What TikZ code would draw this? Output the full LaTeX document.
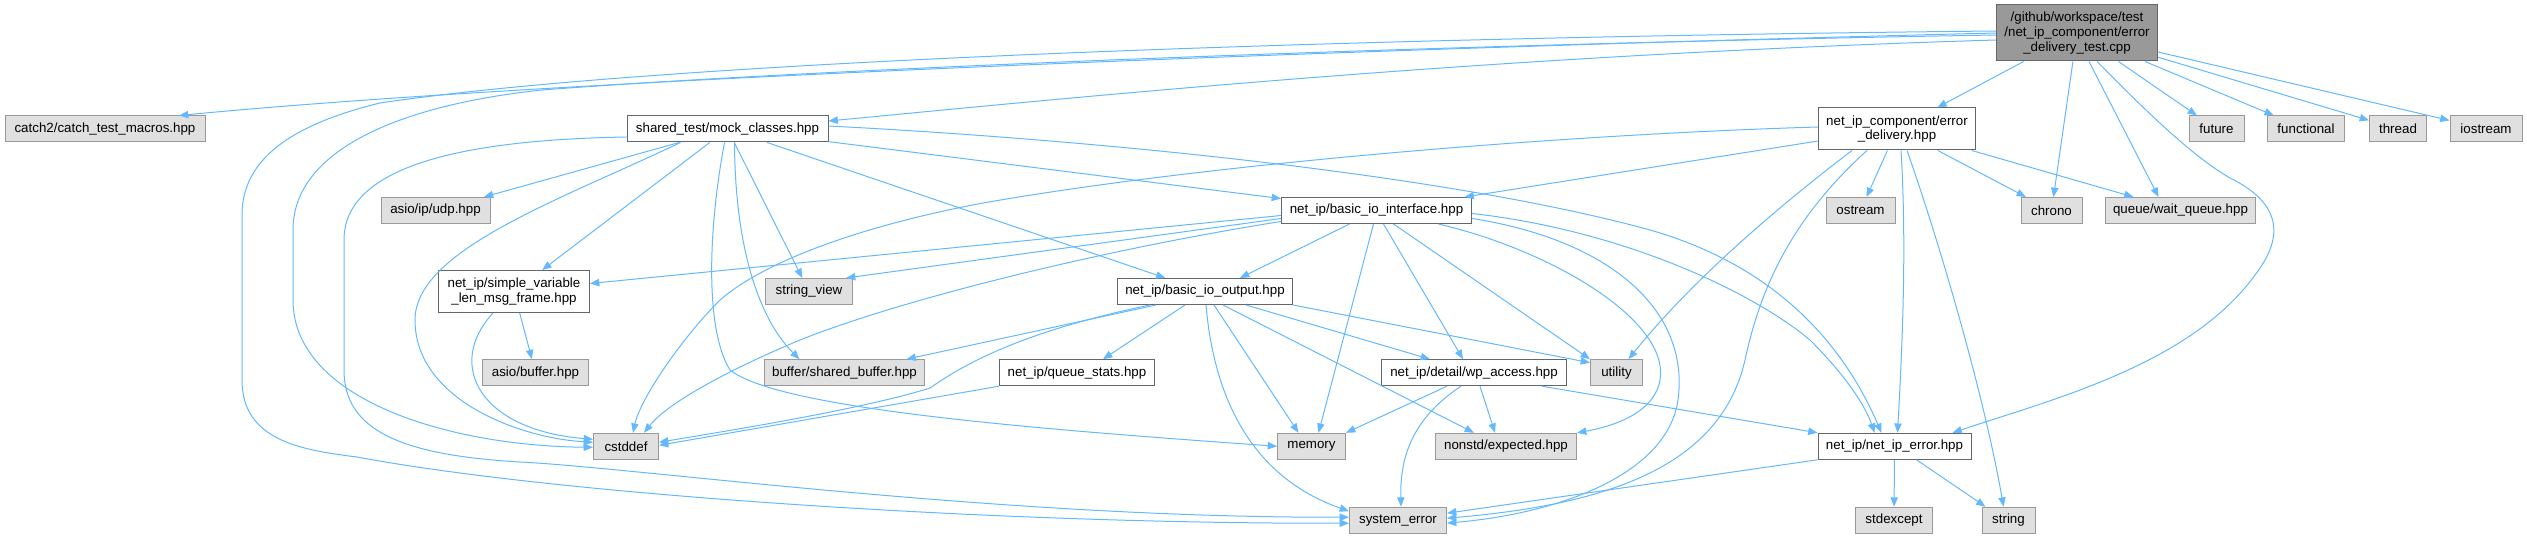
\documentclass[tikz,border=0pt]{standalone}
\usepackage{fontspec}
\setmainfont{Liberation Sans}
\usetikzlibrary{arrows.meta,calc}
\definecolor{edgeblue}{HTML}{63B8FF}
\definecolor{gfill}{HTML}{E0E0E0}
\definecolor{gdraw}{HTML}{999999}
\definecolor{wdraw}{HTML}{666666}
\definecolor{rfill}{HTML}{999999}
\begin{document}
\begin{tikzpicture}[x=0.75pt,y=-0.75pt,
  box/.style={rectangle, inner sep=0pt, font=\fontsize{10pt}{11pt}\selectfont, align=center, minimum height=19.5pt, line width=0.75pt},
  gnode/.style={box, fill=gfill, draw=gdraw},
  wnode/.style={box, fill=white, draw=wdraw},
  rnode/.style={box, fill=rfill, draw=wdraw},
  nw/.style={minimum width=#1*0.75pt},
  nh/.style={minimum height=#1*0.75pt},
  dep/.style={draw=edgeblue, line width=0.75pt, -{Triangle[length=7pt,width=5.5pt]}},
]
\useasboundingbox (0,0) rectangle (2527,538);

% ---- nodes ----
\node[rnode,nw=161,nh=56] (R) at (2077,33) {/github/workspace/test\\/net\_ip\_component/error\\\_delivery\_test.cpp};
\node[gnode,nw=200] (catch2) at (105,129) {catch2/catch\_test\_macros.hpp};
\node[wnode,nw=201] (S) at (727.5,129) {shared\_test/mock\_classes.hpp};
\node[wnode,nw=157,nh=42] (E) at (1897,129) {net\_ip\_component/error\\\_delivery.hpp};
\node[gnode,nw=55] (future) at (2216.5,129) {future};
\node[gnode,nw=77] (functional) at (2306,129) {functional};
\node[gnode,nw=57] (thread) at (2398,129) {thread};
\node[gnode,nw=72] (iostream) at (2486,129) {iostream};

\node[gnode,nw=109] (udp) at (435.5,210.5) {asio/ip/udp.hpp};
\node[wnode,nw=190] (I) at (1376.5,210.5) {net\_ip/basic\_io\_interface.hpp};
\node[gnode,nw=69] (ostream) at (1860.5,210.5) {ostream};
\node[gnode,nw=61] (chrono) at (2051.5,210.5) {chrono};
\node[gnode,nw=150] (wq) at (2180.5,210.5) {queue/wait\_queue.hpp};

\node[wnode,nw=151,nh=42] (V) at (514,291.5) {net\_ip/simple\_variable\\\_len\_msg\_frame.hpp};
\node[gnode,nw=87] (sv) at (809,291.5) {string\_view};
\node[wnode,nw=175] (O) at (1205,291.5) {net\_ip/basic\_io\_output.hpp};

\node[gnode,nw=106] (ab) at (535.5,372.7) {asio/buffer.hpp};
\node[gnode,nw=160] (sb) at (844.5,372.7) {buffer/shared\_buffer.hpp};
\node[wnode,nw=155] (Q) at (1077,372.7) {net\_ip/queue\_stats.hpp};
\node[wnode,nw=185] (W) at (1474,372.7) {net\_ip/detail/wp\_access.hpp};
\node[gnode,nw=52] (ut) at (1616.5,372.7) {utility};

\node[gnode,nw=65] (cs) at (626,446.3) {cstddef};
\node[gnode,nw=68] (mem) at (1311.5,446.3) {memory};
\node[gnode,nw=141] (nx) at (1506,446.3) {nonstd/expected.hpp};
\node[wnode,nw=153] (N) at (1894.5,446.3) {net\_ip/net\_ip\_error.hpp};

\node[gnode,nw=97] (se) at (1398,520.2) {system\_error};
\node[gnode,nw=77] (stdx) at (1894,520.2) {stdexcept};
\node[gnode,nw=53] (str) at (2008.5,520.2) {string};

% ---- root edges ----
\draw[dep] (R.west) .. controls (1500,45) and (600,75) .. ($(catch2.north)+(74,0)$);
\draw[dep] ($(R.west)+(0,2)$) .. controls (1400,45) and (800,70) .. (542,90) .. controls (400,105) and (293,150) .. (293,230) -- (293,300) .. controls (293,400) and (450,446) .. ($(cs.west)+(0,1)$);
\draw[dep] ($(R.west)+(0,-2)$) .. controls (1300,38) and (650,63) .. (380,103) .. controls (290,125) and (242,160) .. (242,215) -- (242,380) .. controls (242,440) and (300,450) .. (357,457) .. controls (560,495) and (1000,524) .. ($(se.west)+(0,3)$);
\draw[dep] ($(R.west)+(0,7)$) .. controls (1500,55) and (1100,95) .. ($(S.east)+(0,-8)$);
\draw[dep] (R) -- (E);
\draw[dep] (R) -- (chrono);
\draw[dep] ($(R.south)+(12,0)$) -- ($(wq.north)+(-22,0)$);
\draw[dep] ($(R.south)+(20,0)$) .. controls (2140,105) and (2190,155) .. (2230,178) .. controls (2285,205) and (2282,240) .. (2255,275) .. controls (2190,365) and (2050,400) .. ($(N.north)+(58,0)$);
\draw[dep] (R) -- (future);
\draw[dep] (R) -- (functional);
\draw[dep] (R) -- (thread);
\draw[dep] (R) -- (iostream);

% ---- shared_test edges ----
\draw[dep] (S) -- (udp);
\draw[dep] (S) -- (V);
\draw[dep] ($(S.south)+(-47,0)$) .. controls (560,200) and (415,250) .. (415,320) .. controls (415,400) and (520,438) .. ($(cs.west)+(0,-4)$);
\draw[dep] ($(S.west)+(0,8)$) .. controls (450,140) and (344,170) .. (344,240) -- (344,370) .. controls (344,430) and (400,455) .. (520,462) .. controls (640,468) and (1000,518) .. ($(se.west)+(0,-3)$);
\draw[dep] (S) -- (sv);
\draw[dep] ($(S.south)+(7,0)$) .. controls (735,250) and (760,320) .. ($(sb.north)+(-45,0)$);
\draw[dep] ($(S.south)+(-3,0)$) .. controls (708,230) and (705,330) .. (730,370) .. controls (780,410) and (1050,430) .. (mem.west);
\draw[dep] (S) -- (O);
\draw[dep] (S) -- (I);
\draw[dep] ($(S.east)+(0,-3)$) .. controls (1100,140) and (1450,175) .. (1650,230) .. controls (1790,270) and (1850,360) .. ($(N.north)+(-13,0)$);

% ---- error_delivery edges ----
\draw[dep] ($(E.west)+(0,12)$) -- ($(I.north)+(88,0)$);
\draw[dep] ($(E.west)+(0,-2)$) .. controls (1550,135) and (1200,165) .. (983,203) .. controls (850,228) and (760,265) .. (720,300) .. controls (680,340) and (640,400) .. ($(cs.north)+(7,0)$);
\draw[dep] (E) -- (ostream);
\draw[dep] (E) -- (chrono);
\draw[dep] (E) -- (wq);
\draw[dep] ($(E.south)+(4,0)$) .. controls (1907,250) and (1902,350) .. ($(N.north)+(3,0)$);
\draw[dep] ($(E.south)+(10,0)$) .. controls (1942,250) and (1985,400) .. ($(str.north)+(-5,0)$);
\draw[dep] ($(E.south)+(-45,0)$) .. controls (1800,190) and (1700,270) .. ($(ut.north)+(12,0)$);
\draw[dep] ($(E.south)+(-30,0)$) .. controls (1790,220) and (1760,290) .. (1745,360) .. controls (1720,470) and (1600,505) .. ($(se.east)+(0,-2)$);

% ---- basic_io_interface edges ----
\draw[dep] ($(I.west)+(0,5)$) -- ($(V.east)+(0,-8)$);
\draw[dep] ($(I.west)+(0,8)$) -- ($(sv.north east)+(-7,0)$);
\draw[dep] ($(I.west)+(0,11)$) .. controls (1100,250) and (900,300) .. (800,340) .. controls (740,365) and (670,400) .. ($(cs.north)+(18,0)$);
\draw[dep] ($(I.south)+(-27,0)$) -- ($(O.north)+(35,0)$);
\draw[dep] ($(I.south)+(-3,0)$) -- ($(mem.north)+(7,0)$);
\draw[dep] ($(I.south)+(7,0)$) -- ($(W.north)+(-11,0)$);
\draw[dep] ($(I.south)+(17,0)$) -- (ut.north west);
\draw[dep] ($(I.south)+(62,0)$) .. controls (1550,250) and (1670,320) .. (1660,380) .. controls (1655,410) and (1620,425) .. (nx.north east);
\draw[dep] ($(I.east)+(0,8)$) .. controls (1610,240) and (1690,310) .. (1678,400) .. controls (1668,470) and (1570,512) .. ($(se.east)+(0,3)$);
\draw[dep] ($(I.east)+(0,3)$) .. controls (1620,230) and (1750,290) .. (1810,340) .. controls (1845,375) and (1865,405) .. ($(N.north)+(-20,0)$);

% ---- basic_io_output edges ----
\draw[dep] ($(O.south)+(-49,0)$) -- ($(sb.north)+(62,0)$);
\draw[dep] ($(O.south)+(-55,0)$) .. controls (1030,330) and (970,360) .. (930,388) .. controls (860,410) and (720,432) .. ($(cs.east)+(0,-4)$);
\draw[dep] ($(O.south)+(-20,0)$) -- ($(Q.north)+(26,0)$);
\draw[dep] ($(O.south)+(1,0)$) .. controls (1215,410) and (1260,480) .. ($(se.west)+(0,-9)$);
\draw[dep] ($(O.south)+(9,0)$) -- ($(mem.north)+(-13,0)$);
\draw[dep] ($(O.south)+(18,0)$) -- ($(nx.north)+(-32,0)$);
\draw[dep] ($(O.south)+(41,0)$) -- ($(W.north)+(-44,0)$);
\draw[dep] (O.south east) -- ($(ut.west)+(0,-10)$);

% ---- simple_variable, queue_stats ----
\draw[dep] (V) -- (ab);
\draw[dep] ($(V.south)+(-21,0)$) .. controls (445,365) and (480,430) .. ($(cs.west)+(0,-7)$);
\draw[dep] (Q.south west) -- ($(cs.east)+(0,-1)$);

% ---- wp_access ----
\draw[dep] ($(W.south)+(-27,0)$) -- (mem.north east);
\draw[dep] ($(W.south)+(6,0)$) -- ($(nx.north)+(-11,0)$);
\draw[dep] ($(W.south)+(-13,0)$) .. controls (1410,420) and (1400,460) .. ($(se.north)+(3,0)$);
\draw[dep] ($(W.south east)+(-25,0)$) -- (N.north west);

% ---- net_ip_error ----
\draw[dep] (N.south west) -- ($(se.east)+(0,-7)$);
\draw[dep] (N) -- (stdx);
\draw[dep] ($(N.south)+(22,0)$) -- ($(str.north west)+(4,0)$);
\end{tikzpicture}
\end{document}
